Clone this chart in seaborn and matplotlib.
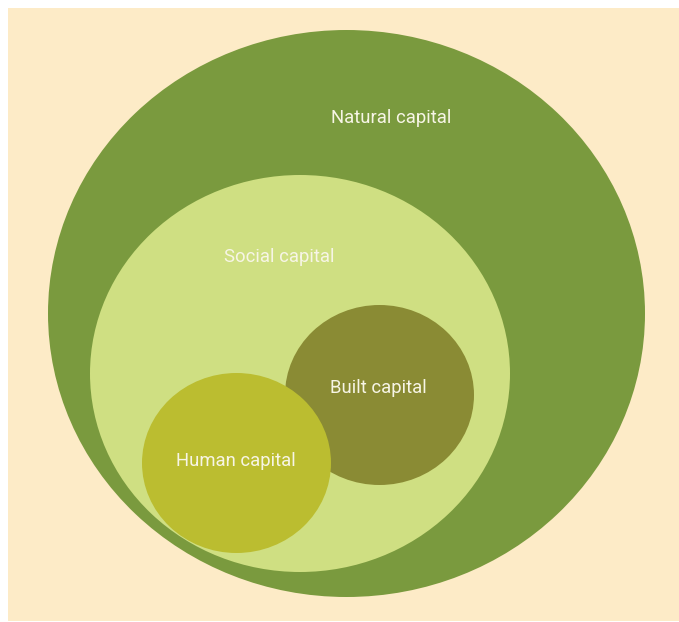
import matplotlib
matplotlib.use('Agg')

import matplotlib.pyplot as plt
from matplotlib.patches import Ellipse, Rectangle
import seaborn as sns

# Nested capitals diagram (pixel coordinates of the 679x622 picture)

labels = ["Natural capital", "Social capital", "Built capital", "Human capital"]
centre_x = [346.5, 300, 379.5, 236.5]
centre_y = [313.5, 373.5, 395, 463]
widths = [597, 420, 189, 189]
heights = [567, 397, 180, 180]
label_x = [391, 279, 378, 236]
label_y = [118, 257, 388, 461]
colours = ["#7A9A3E", "#CFDF82", "#8A8B34", "#BBBD30"]

sns.set_theme(style="white")
plt.rcParams['font.family'] = ['Roboto', 'DejaVu Sans']

fig = plt.figure(figsize=(6.79, 6.22), dpi=100)
ax = fig.add_axes([0, 0, 1, 1])
ax.set_xlim(0, 679)
ax.set_ylim(622, 0)
ax.axis('off')

# background panel
ax.add_patch(Rectangle((8, 8), 671, 613, facecolor="#FDEBC7", edgecolor="none"))

for cx, cy, w, h, c in zip(centre_x, centre_y, widths, heights, colours):
    ax.add_patch(Ellipse((cx, cy), w, h, facecolor=c, edgecolor="none"))

for lab, lx, ly in zip(labels, label_x, label_y):
    ax.text(lx, ly, lab, color="#F7F5E6", fontsize=13.3,
            ha="center", va="center")

plt.savefig("out.png", dpi=100)
plt.close()
